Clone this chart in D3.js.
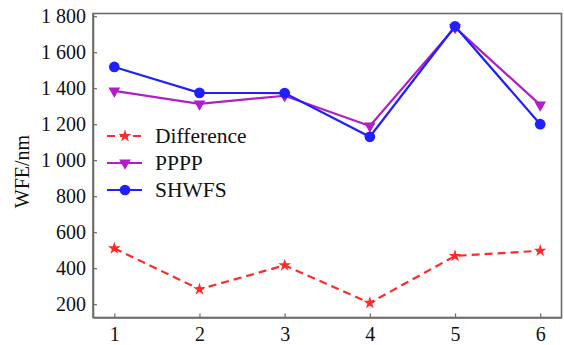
<!DOCTYPE html>
<html>
<head>
<meta charset="utf-8">
<script src="https://cdn.jsdelivr.net/npm/d3@7/dist/d3.min.js"></script>
<style>
  html, body { margin: 0; padding: 0; background: #fff; }
  svg { display: block; }
  svg text { font-family: "Liberation Serif", "Times New Roman", "DejaVu Serif", serif; fill: #111; }
</style>
</head>
<body>
<svg id="chart" width="564" height="345"></svg>
<script>
// Measurement index 1..6
const samples = [1, 2, 3, 4, 5, 6];
// Wavefront error (nm) per method
const differenceValues = [510, 283, 416, 207, 468, 497];
const ppppValues = [1385, 1313, 1358, 1190, 1738, 1307];
const shwfsValues = [1518, 1374, 1373, 1130, 1744, 1200];
const yTicks = [200, 400, 600, 800, 1000, 1200, 1400, 1600, 1800];
const xTicks = [1, 2, 3, 4, 5, 6];

const series = [
  { name: "Difference", values: differenceValues, color: "#ff2a2a", dash: "8,5", marker: "star" },
  { name: "PPPP", values: ppppValues, color: "#b31cc9", dash: null, marker: "tri" },
  { name: "SHWFS", values: shwfsValues, color: "#1f1fff", dash: null, marker: "circle" }
];

const serif = '"Liberation Serif", "Times New Roman", "DejaVu Serif", serif';
const svg = d3.select("#chart");
const margin = { left: 93, right: 2.5, top: 13.5, bottom: 27.5 };
const W = 564, H = 345;
const x = d3.scaleLinear().domain([0.75, 6.25]).range([margin.left, W - margin.right]);
const y = d3.scaleLinear().domain([126, 1815]).range([H - margin.bottom, margin.top]);

// Thousands grouped with a space, e.g. "1 800"
const fmt = d => {
  const s = String(d);
  return s.length > 3 ? s.slice(0, s.length - 3) + " " + s.slice(-3) : s;
};

const axisColor = "#6b6b6b";

// Frame
svg.append("rect")
  .attr("x", x.range()[0]).attr("y", y.range()[1])
  .attr("width", x.range()[1] - x.range()[0])
  .attr("height", y.range()[0] - y.range()[1])
  .attr("fill", "none").attr("stroke", axisColor).attr("stroke-width", 1.6);

// Axes with inward ticks
const yAxis = svg.append("g")
  .attr("transform", `translate(${x.range()[0]},0)`)
  .call(d3.axisLeft(y).tickValues(yTicks).tickSizeInner(-4).tickSizeOuter(0).tickPadding(7).tickFormat(fmt));
const xAxis = svg.append("g")
  .attr("transform", `translate(0,${y.range()[0]})`)
  .call(d3.axisBottom(x).tickValues(xTicks).tickSizeInner(-4).tickSizeOuter(0).tickPadding(9).tickFormat(d3.format("d")));

[yAxis, xAxis].forEach(g => {
  g.attr("font-family", serif).attr("font-size", 20);
  g.select(".domain").attr("stroke", axisColor).attr("stroke-width", 1.6);
  g.selectAll(".tick line").attr("stroke", axisColor).attr("stroke-width", 1.2);
  g.selectAll(".tick text").attr("fill", "#111");
});

// Y-axis title
svg.append("text")
  .attr("transform", `translate(29,${(y.range()[0] + y.range()[1]) / 2 + 6}) rotate(-90)`)
  .attr("text-anchor", "middle")
  .attr("font-family", serif)
  .attr("font-size", 20)
  .text("WFE/nm");

const symbolFor = m => m === "star" ? d3.symbolStar : m === "tri" ? d3.symbolTriangle : d3.symbolCircle;
const sizeFor = m => m === "star" ? 50 : m === "tri" ? 60 : 90;
const rotFor = m => m === "tri" ? 180 : 0;

const line = d3.line().x((d, i) => x(samples[i])).y(d => y(d));

series.forEach(s => {
  const g = svg.append("g");
  g.append("path")
    .attr("d", line(s.values))
    .attr("fill", "none")
    .attr("stroke", s.color)
    .attr("stroke-width", 2.2)
    .attr("stroke-dasharray", s.dash);
  g.selectAll("path.mark")
    .data(s.values)
    .join("path")
    .attr("class", "mark")
    .attr("d", d3.symbol().type(symbolFor(s.marker)).size(sizeFor(s.marker)))
    .attr("transform", (d, i) => `translate(${x(samples[i])},${y(d)}) rotate(${rotFor(s.marker)})`)
    .attr("fill", s.color);
});

// Legend
const legend = svg.append("g").attr("transform", "translate(107,136)");
series.forEach((s, i) => {
  const row = legend.append("g").attr("transform", `translate(0,${i * 27})`);
  row.append("line")
    .attr("x1", 0).attr("x2", 35).attr("y1", 0).attr("y2", 0)
    .attr("stroke", s.color).attr("stroke-width", 2.2)
    .attr("stroke-dasharray", s.dash);
  row.append("path")
    .attr("d", d3.symbol().type(symbolFor(s.marker)).size(sizeFor(s.marker))())
    .attr("transform", `translate(18,0) rotate(${rotFor(s.marker)})`)
    .attr("fill", s.color);
  row.append("text")
    .attr("x", 48).attr("y", 7)
    .attr("font-family", serif)
    .attr("font-size", 21.5)
    .text(s.name);
});
</script>
</body>
</html>
